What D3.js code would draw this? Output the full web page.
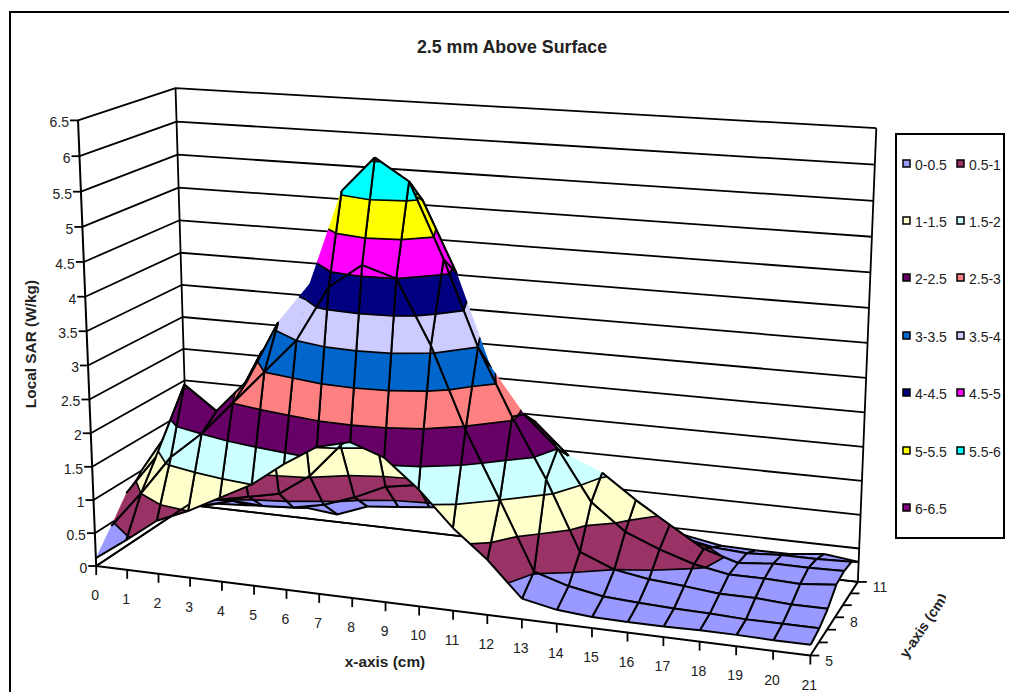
<!DOCTYPE html>
<html>
<head>
<meta charset="utf-8">
<script src="https://cdn.jsdelivr.net/npm/d3@7"></script>
<style>
  html, body { margin: 0; padding: 0; background: #fff; }
  svg { display: block; }
  text { font-family: "Liberation Sans", Arial, sans-serif; fill: #222; }
</style>
</head>
<body>
<svg id="chart" width="1009" height="692"></svg>
<script>
// axis categories
const xCats = d3.range(0, 22);
const yCats = [5, 6, 7, 8, 9, 10, 11];
const zTicks = [0, 0.5, 1, 1.5, 2, 2.5, 3, 3.5, 4, 4.5, 5, 5.5, 6, 6.5];
const yTickLabels = [5, 8, 11];

// SAR, one list per y row
const y5 = [.12, .45, .8, 1.0, 1.25, 1.5, 1.85, 2.15, 2.27, 2.1, 1.7, 1.2, .8, .3, .2, .16, .15, .15, .16, .16, .15, .15];
const y6 = [.45, 1.0, 1.6, 2.0, 2.5, 3.0, 3.5, 4.3, 4.65, 4.5, 3.6, 2.45, 1.5, .52, .37, .28, .25, .23, .22, .2, .2, .2];
const y7 = [.8, 1.4, 2.55, 2.2, 2.7, 3.6, 4.2, 5.55, 6.05, 5.75, 4.7, 3.5, 2.55, 1.7, .7, .5, .42, .38, .33, .33, .3, .3];
const y8 = [1.0, 1.7, 2.0, 2.1, 3.0, 3.5, 3.9, 5.0, 5.6, 5.4, 4.4, 3.1, 2.45, 2.0, 1.27, .89, .69, .53, .44, .44, .42, .47];
const y9 = [.9, .4, .5, .6, .7, 1.03, 1.55, 2.0, 2.6, 2.8, 2.6, 2.4, 2.2, 1.75, 1.55, 1.2, .89, .59, .44, .49, .49, .5];
const y10 = [.7, .2, .33, .3, .33, .43, .6, .82, .9, 1.0, 1.05, 1.1, 1.15, 1.1, .85, .7, .55, .45, .42, .45, .45, .47];
const y11 = [.4, .07, .1, .15, .17, .12, .3, .35, .4, .45, .5, .55, .58, .55, .5, .45, .4, .31, .3, .3, .36, .3];
const rows = [y5, y6, y7, y8, y9, y10, y11];

// legend bands
const bandNames = ["0-0.5", "0.5-1", "1-1.5", "1.5-2", "2-2.5", "2.5-3", "3-3.5", "3.5-4", "4-4.5", "4.5-5", "5-5.5", "5.5-6", "6-6.5"];
const bandColors = ["#9999FF", "#993366", "#FFFFCC", "#CCFFFF", "#660066", "#FF8080", "#0066CC", "#CCCCFF", "#000080", "#FF00FF", "#FFFF00", "#00FFFF", "#800080"];

// mesh edges the original leaves without an outline
const bareEdges = new Set(["R2_5", "R2_6", "C1_6", "R3_11", "R3_10", "R4_13", "C0_0", "C1_0", "C2_0", "C3_0", "C4_0", "C5_0"]);

const svg = d3.select("#chart");

const xScale = d3.scaleLinear().domain([0, 21]).range([0, 1]);
const yScale = d3.scaleLinear().domain([5, 11]).range([0, 1]);
const zScale = d3.scaleLinear().domain([0, 6.5]).range([0, 1]);

// box corners on screen, used to fit the perspective
const anchors = [
  [0, 0, 0, 96, 564], [1, 0, 0, 810, 657], [0, 1, 0, 188, 506], [1, 1, 0, 858, 581],
  [0, 0, 1, 78, 120], [0, 1, 1, 176, 88], [1, 1, 1, 876, 128],
  [0.5, 0, 0, 437, 608], [0, 0, 0.5, 87, 350]
];

function fitCamera(pts) {
  const n = 11;
  const A = d3.range(n).map(() => new Array(n + 1).fill(0));
  function add(r, b) {
    for (let i = 0; i < n; i++) {
      for (let j = 0; j < n; j++) A[i][j] += r[i] * r[j];
      A[i][n] += r[i] * b;
    }
  }
  pts.forEach(([X, Y, Z, u, v]) => {
    add([X, Y, Z, 1, 0, 0, 0, 0, -u * X, -u * Y, -u * Z], u);
    add([0, 0, 0, 0, X, Y, Z, 1, -v * X, -v * Y, -v * Z], v);
  });
  for (let i = 0; i < n; i++) {
    let m = i;
    for (let k = i + 1; k < n; k++) if (Math.abs(A[k][i]) > Math.abs(A[m][i])) m = k;
    [A[i], A[m]] = [A[m], A[i]];
    for (let k = 0; k < n; k++) {
      if (k === i) continue;
      const f = A[k][i] / A[i][i];
      for (let j = i; j <= n; j++) A[k][j] -= f * A[i][j];
    }
  }
  return A.map((r, i) => r[n] / r[i]);
}
const cam = fitCamera(anchors);

function project(x, y, z) {
  const X = xScale(x), Y = yScale(y), Z = zScale(z);
  const w = cam[8] * X + cam[9] * Y + cam[10] * Z + 1;
  return [
    (cam[0] * X + cam[1] * Y + cam[2] * Z + cam[3]) / w,
    (cam[4] * X + cam[5] * Y + cam[6] * Z + cam[7]) / w
  ];
}

const line = d3.line();
const closed = d3.line().curve(d3.curveLinearClosed);

function stroke(g, pts, w) {
  g.append("path").attr("d", line(pts)).attr("fill", "none").attr("stroke", "#000")
    .attr("stroke-width", w || 1.8).attr("stroke-linejoin", "round");
}

// chart frame, only top and left are inside the window
svg.append("path").attr("d", line([[10, 692], [10, 12], [1009, 12]]))
  .attr("fill", "none").attr("stroke", "#000").attr("stroke-width", 2);

const walls = svg.append("g");
zTicks.forEach(z => {
  stroke(walls, [project(0, 5, z), project(0, 11, z), project(21, 11, z)]);
});
stroke(walls, [project(0, 11, 0), project(0, 11, 6.5)]);
stroke(walls, [project(21, 11, 0), project(21, 11, 6.5)]);
stroke(walls, [project(0, 11, 0), project(21, 11, 0)]);

// clip one cell to a z range
function clipCell(poly, lo, hi) {
  function clip(pts, inside, level) {
    const out = [];
    pts.forEach((p, i) => {
      const q = pts[(i + 1) % pts.length];
      const pin = inside(p[2]), qin = inside(q[2]);
      if (pin) out.push(p);
      if (pin !== qin) {
        const t = (level - p[2]) / (q[2] - p[2]);
        out.push([p[0] + t * (q[0] - p[0]), p[1] + t * (q[1] - p[1]), level]);
      }
    });
    return out;
  }
  let res = clip(poly, z => z >= lo, lo);
  if (res.length) res = clip(res, z => z <= hi, hi);
  return res;
}

const surface = svg.append("g");
const bandWidth = 0.5;
d3.range(yCats.length - 2, -1, -1).forEach(r => {
  d3.range(xCats.length - 2, -1, -1).forEach(c => {
    const poly = [
      [xCats[c], yCats[r], rows[r][c]],
      [xCats[c + 1], yCats[r], rows[r][c + 1]],
      [xCats[c + 1], yCats[r + 1], rows[r + 1][c + 1]],
      [xCats[c], yCats[r + 1], rows[r + 1][c]]
    ];
    const cell = surface.append("g");
    const seams = [];
    bandColors.forEach((color, b) => {
      const lo = b * bandWidth, hi = lo + bandWidth;
      const part = clipCell(poly, lo, hi);
      if (part.length < 3) return;
      const screen = part.map(p => project(p[0], p[1], p[2]));
      cell.append("path").attr("d", closed(screen)).attr("fill", color)
        .attr("stroke", color).attr("stroke-width", 0.4);
      part.forEach((p, i) => {
        const q = part[(i + 1) % part.length];
        if (p[2] === hi && q[2] === hi) seams.push([screen[i], screen[(i + 1) % part.length]]);
      });
    });
    seams.forEach(s => stroke(cell, s, 1.7));
    const pts = poly.map(p => project(p[0], p[1], p[2]));
    const edgeKeys = [`R${r}_${c}`, `C${r}_${c + 1}`, `R${r + 1}_${c}`, `C${r}_${c}`];
    edgeKeys.forEach((key, i) => {
      if (!bareEdges.has(key)) stroke(cell, [pts[i], pts[(i + 1) % 4]], 2);
    });
  });
});

// floor edges and axes in front of the surface
const axes = svg.append("g");
stroke(axes, [project(0, 11, 0), project(0, 5, 0), project(21, 5, 0), project(21, 11, 0)], 2);
stroke(axes, [project(0, 5, 0), project(0, 5, 6.5)], 2);

zTicks.forEach(z => {
  const p = project(0, 5, z);
  stroke(axes, [[p[0] - 8, p[1]], p]);
  axes.append("text").attr("x", p[0] - 9).attr("y", p[1] + 7).attr("text-anchor", "end")
    .attr("font-size", 14).text(z);
});
xCats.forEach(x => {
  const p = project(x, 5, 0);
  stroke(axes, [p, [p[0], p[1] + 9]]);
  axes.append("text").attr("text-anchor", "middle").attr("font-size", 14)
    .attr("x", p[0] - 1).attr("y", p[1] + 34).text(x);
});
yCats.forEach(y => {
  const p = project(21, y, 0);
  stroke(axes, [p, [p[0] + 9, p[1]]]);
  if (yTickLabels.includes(y)) {
    axes.append("text").attr("x", p[0] + 15).attr("y", p[1] + 10).attr("font-size", 14).text(y);
  }
});

// titles
svg.append("text").attr("x", 512).attr("y", 53).attr("text-anchor", "middle")
  .attr("font-size", 17.8).attr("font-weight", "bold").text("2.5 mm Above Surface");
svg.append("text").attr("x", 385).attr("y", 667).attr("text-anchor", "middle")
  .attr("font-size", 15.4).attr("font-weight", "bold").text("x-axis (cm)");
svg.append("text").attr("transform", "translate(36,344) rotate(-90)").attr("text-anchor", "middle")
  .attr("font-size", 15.4).attr("font-weight", "bold").text("Local SAR (W/kg)");
svg.append("clipPath").attr("id", "yClip").append("rect")
  .attr("x", 0).attr("y", 0).attr("width", 946).attr("height", 692);
svg.append("g").attr("clip-path", "url(#yClip)").append("text")
  .attr("transform", "translate(907,659) rotate(-56)")
  .attr("font-size", 14.2).attr("font-weight", "bold").text("y-axis (cm)");

// legend
const legend = svg.append("g");
legend.append("rect").attr("x", 896).attr("y", 134).attr("width", 108).attr("height", 404)
  .attr("fill", "#fff").attr("stroke", "#000").attr("stroke-width", 2);
const legendRows = [163, 220, 277, 335, 392, 450, 507];
bandNames.forEach((name, i) => {
  const rowY = legendRows[Math.floor(i / 2)];
  const colX = 903 + (i % 2) * 54;
  legend.append("rect").attr("x", colX).attr("y", rowY - 3).attr("width", 7).attr("height", 7)
    .attr("fill", bandColors[i]).attr("stroke", "#000").attr("stroke-width", 1.5);
  legend.append("text").attr("x", colX + 12).attr("y", rowY + 7).attr("font-size", 14).text(name);
});
</script>
</body>
</html>
